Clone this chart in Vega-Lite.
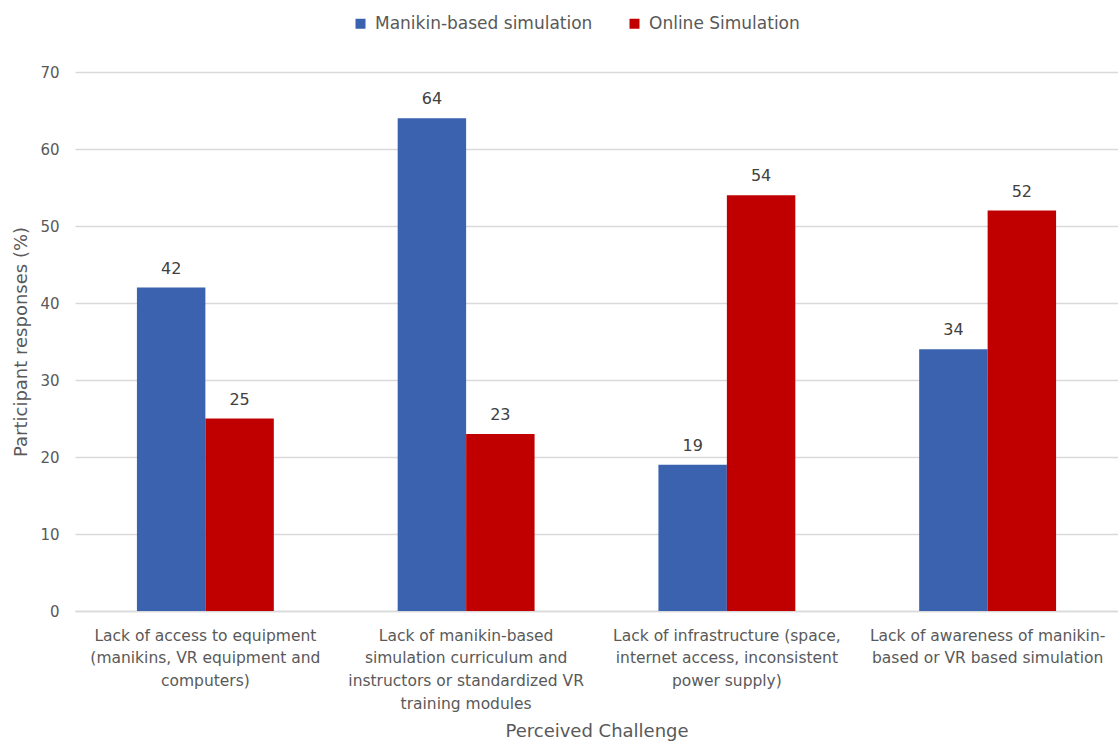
{
  "$schema": "https://vega.github.io/schema/vega-lite/v6.json",
  "width": 1043,
  "height": 539,
  "autosize": {"type": "none"},
  "padding": {"left": 75, "top": 72, "right": 0, "bottom": 133},
  "background": "white",
  "config": {
    "view": {"stroke": null},
    "font": "DejaVu Sans",
    "axis": {"labelFont": "DejaVu Sans", "titleFont": "DejaVu Sans", "labelColor": "#595959", "titleColor": "#595959", "titleFontWeight": "normal"}
  },
  "data": {
    "values": [
      {"challenge": "Lack of access to equipment|(manikins, VR equipment and|computers)", "type": "Manikin-based simulation", "value": 42},
      {"challenge": "Lack of access to equipment|(manikins, VR equipment and|computers)", "type": "Online Simulation", "value": 25},
      {"challenge": "Lack of manikin-based|simulation curriculum and|instructors or standardized VR|training modules", "type": "Manikin-based simulation", "value": 64},
      {"challenge": "Lack of manikin-based|simulation curriculum and|instructors or standardized VR|training modules", "type": "Online Simulation", "value": 23},
      {"challenge": "Lack of infrastructure (space,|internet access, inconsistent|power supply)", "type": "Manikin-based simulation", "value": 19},
      {"challenge": "Lack of infrastructure (space,|internet access, inconsistent|power supply)", "type": "Online Simulation", "value": 54},
      {"challenge": "Lack of awareness of manikin-|based or VR based simulation", "type": "Manikin-based simulation", "value": 34},
      {"challenge": "Lack of awareness of manikin-|based or VR based simulation", "type": "Online Simulation", "value": 52}
    ]
  },
  "encoding": {
    "x": {
      "field": "challenge", "type": "nominal", "sort": null,
      "scale": {"paddingInner": 0.475, "paddingOuter": 0.2375},
      "axis": {
        "title": "Perceived Challenge", "titleFontSize": 18, "titlePadding": 11,
        "labelAngle": 0, "labelFontSize": 15.5, "labelLineHeight": 22.7, "labelPadding": 17,
        "labelExpr": "split(datum.label, '|')", "labelLimit": 300,
        "ticks": false, "domainColor": "#d9d9d9", "domainWidth": 1.5
      }
    },
    "xOffset": {"field": "type", "type": "nominal", "scale": {"paddingInner": 0, "paddingOuter": 0}},
    "y": {
      "field": "value", "type": "quantitative",
      "scale": {"domain": [0, 70], "nice": false},
      "axis": {
        "title": "Participant responses (%)", "titleFontSize": 18, "titlePadding": 9,
        "values": [0, 10, 20, 30, 40, 50, 60, 70], "labelOverlap": false,
        "labelFontSize": 15, "labelPadding": 16, "ticks": false, "domain": false,
        "gridColor": "#d9d9d9", "gridWidth": 1.5
      }
    }
  },
  "layer": [
    {
      "mark": {"type": "bar"},
      "encoding": {
        "color": {
          "field": "type", "type": "nominal",
          "scale": {"domain": ["Manikin-based simulation", "Online Simulation"], "range": ["#3a62ae", "#c00000"]},
          "legend": {
            "title": null, "orient": "none", "direction": "horizontal",
            "legendX": 277, "legendY": -57, "labelLimit": 400,
            "labelFontSize": 17, "labelColor": "#595959", "labelFont": "DejaVu Sans",
            "symbolType": "square", "symbolSize": 100, "columnPadding": 33, "labelOffset": 6
          }
        }
      }
    },
    {
      "mark": {"type": "text", "baseline": "bottom", "dy": -11, "fontSize": 16, "color": "#404040"},
      "encoding": {"text": {"field": "value", "type": "quantitative"}}
    }
  ]
}
